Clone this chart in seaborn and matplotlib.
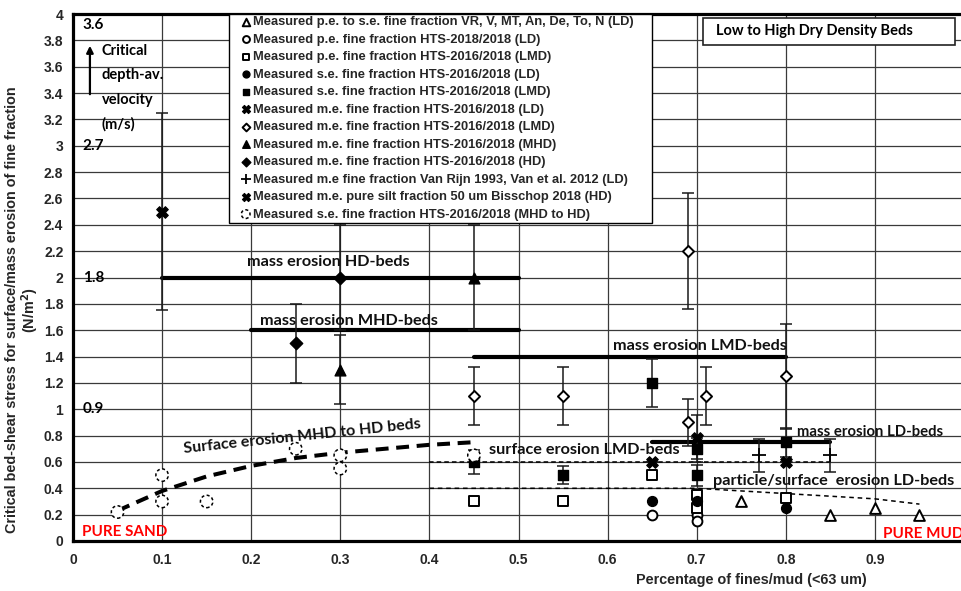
import matplotlib
matplotlib.use("Agg")
import matplotlib.pyplot as plt
import seaborn as sns

# ---------------- measured critical bed-shear stresses (N/m2) ----------------
pe_se_ld_x = [0.75, 0.85, 0.90, 0.95]
pe_se_ld_y = [0.30, 0.20, 0.25, 0.20]

pe_hts18_ld_x = [0.65, 0.70, 0.70]
pe_hts18_ld_y = [0.20, 0.20, 0.15]

pe_hts16_lmd_x = [0.45, 0.55, 0.65, 0.70, 0.70, 0.80]
pe_hts16_lmd_y = [0.30, 0.30, 0.50, 0.35, 0.25, 0.33]

se_hts16_ld_x = [0.65, 0.70, 0.80]
se_hts16_ld_y = [0.30, 0.30, 0.25]

se_hts16_lmd_x = [0.45, 0.55, 0.65, 0.70, 0.70, 0.80]
se_hts16_lmd_y = [0.60, 0.50, 1.20, 0.70, 0.50, 0.75]
se_hts16_lmd_err = [0.09, 0.07, 0.18, 0.08, 0.08, 0.11]

me_hts16_ld_x = [0.65, 0.70, 0.80]
me_hts16_ld_y = [0.60, 0.78, 0.60]
me_hts16_ld_err = [0.0, 0.18, 0.0]

me_hts16_lmd_x = [0.45, 0.55, 0.69, 0.69, 0.71, 0.80]
me_hts16_lmd_y = [1.10, 1.10, 2.20, 0.90, 1.10, 1.25]
me_hts16_lmd_err = [0.22, 0.22, 0.44, 0.18, 0.22, 0.40]

me_hts16_mhd_x = [0.30, 0.45]
me_hts16_mhd_y = [1.30, 2.00]
me_hts16_mhd_err = [0.26, 0.40]

me_hts16_hd_x = [0.25, 0.30]
me_hts16_hd_y = [1.50, 2.00]
me_hts16_hd_err = [0.30, 0.40]

me_vanrijn_ld_x = [0.77, 0.85]
me_vanrijn_ld_y = [0.65, 0.65]
me_vanrijn_ld_err = [0.125, 0.125]

me_silt_hd_x = [0.10]
me_silt_hd_y = [2.50]
me_silt_hd_err = [0.75]

se_hts16_mhd_hd_x = [0.05, 0.10, 0.10, 0.15, 0.25, 0.30, 0.30, 0.45]
se_hts16_mhd_hd_y = [0.22, 0.50, 0.30, 0.30, 0.70, 0.65, 0.55, 0.65]

# ---------------- erosion threshold lines ----------------
mass_hd_x, mass_hd_y = [0.10, 0.50], [2.0, 2.0]
mass_mhd_x, mass_mhd_y = [0.20, 0.50], [1.6, 1.6]
mass_lmd_x, mass_lmd_y = [0.45, 0.80], [1.4, 1.4]
mass_ld_x, mass_ld_y = [0.65, 0.85], [0.75, 0.75]

surf_mhd_hd_x = [0.05, 0.10, 0.15, 0.20, 0.25, 0.30, 0.35, 0.40, 0.45]
surf_mhd_hd_y = [0.23, 0.38, 0.49, 0.57, 0.63, 0.67, 0.70, 0.73, 0.75]

surf_lmd_x, surf_lmd_y = [0.40, 0.85], [0.60, 0.60]
part_ld_x = [0.40, 0.70, 0.80, 0.90, 0.95]
part_ld_y = [0.40, 0.40, 0.36, 0.32, 0.28]

# ---------------- axis ticks ----------------
x_ticks = [0.0, 0.1, 0.2, 0.3, 0.4, 0.5, 0.6, 0.7, 0.8, 0.9, 1.0]
x_tick_labels = ["0", "0.1", "0.2", "0.3", "0.4", "0.5", "0.6", "0.7", "0.8", "0.9", ""]
y_ticks = [i * 0.2 for i in range(21)]
y_tick_labels = ["0", "0.2", "0.4", "0.6", "0.8", "1", "1.2", "1.4", "1.6", "1.8", "2",
                 "2.2", "2.4", "2.6", "2.8", "3", "3.2", "3.4", "3.6", "3.8", "4"]

# critical depth-averaged velocity (m/s) shown next to stress levels
velocity_labels = ["0.9", "1.8", "2.7", "3.6"]
velocity_stress = [1.0, 2.0, 3.0, 3.92]

sns.set_style("white")
plt.rcParams["font.family"] = ["Liberation Sans", "DejaVu Sans"]
plt.rcParams["font.weight"] = "bold"
plt.rcParams["axes.labelweight"] = "bold"

CAL = ["Lato", "DejaVu Sans"]

fig = plt.figure(figsize=(9.61, 5.91), dpi=100)
ax = fig.add_axes([73 / 961, 50 / 591, 891 / 961, 527 / 591])
ax.set_xlim(0, 1.0)
ax.set_ylim(0, 4.0)

ax.set_xticks(x_ticks)
ax.set_xticklabels(x_tick_labels)
ax.set_yticks(y_ticks)
ax.set_yticklabels(y_tick_labels)
ax.tick_params(axis="both", length=0, labelsize=10)
ax.tick_params(axis="x", pad=9)
ax.tick_params(axis="y", pad=7)
ax.grid(True, color="#3a3a3a", linewidth=0.9)
ax.set_axisbelow(True)
for side in ["left", "bottom", "top"]:
    ax.spines[side].set_color("black")
    ax.spines[side].set_linewidth(2.3)
ax.spines["right"].set_visible(False)

ax.set_ylabel("Critical bed-shear stress for surface/mass erosion of fine fraction\n(N/m$^\\mathbf{2}$)",
              fontsize=10.4, fontweight="bold", linespacing=1.05)
ax.yaxis.set_label_coords(-0.036, 0.438)
ax.set_xlabel("Percentage of fines/mud (<63 um)", fontsize=10.4, fontweight="bold")
ax.xaxis.set_label_coords(0.761, -0.06)

# ---------------- threshold lines ----------------
for lx, ly in [(mass_hd_x, mass_hd_y), (mass_mhd_x, mass_mhd_y),
               (mass_lmd_x, mass_lmd_y), (mass_ld_x, mass_ld_y)]:
    sns.lineplot(x=lx, y=ly, ax=ax, color="black", linewidth=3.0, sort=False,
                 estimator=None, zorder=3)

sns.lineplot(x=surf_mhd_hd_x, y=surf_mhd_hd_y, ax=ax, color="black", linewidth=2.9,
             sort=False, estimator=None, zorder=3)
ax.lines[-1].set_dashes((3.2, 1.9))
sns.lineplot(x=surf_lmd_x, y=surf_lmd_y, ax=ax, color="black", linewidth=1.1,
             sort=False, estimator=None, zorder=3)
ax.lines[-1].set_dashes((3, 2))
sns.lineplot(x=part_ld_x, y=part_ld_y, ax=ax, color="black", linewidth=1.1,
             sort=False, estimator=None, zorder=3)
ax.lines[-1].set_dashes((3, 2.5))

# ---------------- error bars ----------------
for ex, ey, ee in [(se_hts16_lmd_x, se_hts16_lmd_y, se_hts16_lmd_err),
                   (me_hts16_ld_x, me_hts16_ld_y, me_hts16_ld_err),
                   (me_hts16_lmd_x, me_hts16_lmd_y, me_hts16_lmd_err),
                   (me_hts16_mhd_x, me_hts16_mhd_y, me_hts16_mhd_err),
                   (me_hts16_hd_x, me_hts16_hd_y, me_hts16_hd_err),
                   (me_vanrijn_ld_x, me_vanrijn_ld_y, me_vanrijn_ld_err),
                   (me_silt_hd_x, me_silt_hd_y, me_silt_hd_err)]:
    ax.errorbar(ex, ey, yerr=ee, fmt="none", ecolor="#1a1a1a", elinewidth=1.1,
                capsize=4, capthick=1.1, zorder=4)

# ---------------- measured points ----------------
series = [
    ("Measured p.e. to s.e. fine fraction VR, V, MT, An, De, To, N (LD)",
     pe_se_ld_x, pe_se_ld_y, dict(marker="^", s=60, facecolor="white", edgecolor="black", linewidth=1.4)),
    ("Measured p.e. fine fraction HTS-2018/2018 (LD)",
     pe_hts18_ld_x, pe_hts18_ld_y, dict(marker="o", s=50, facecolor="white", edgecolor="black", linewidth=1.4)),
    ("Measured p.e. fine fraction HTS-2016/2018 (LMD)",
     pe_hts16_lmd_x, pe_hts16_lmd_y, dict(marker="s", s=48, facecolor="white", edgecolor="black", linewidth=1.4)),
    ("Measured s.e. fine fraction HTS-2016/2018 (LD)",
     se_hts16_ld_x, se_hts16_ld_y, dict(marker="o", s=50, facecolor="black", edgecolor="black", linewidth=1.0)),
    ("Measured s.e. fine fraction HTS-2016/2018 (LMD)",
     se_hts16_lmd_x, se_hts16_lmd_y, dict(marker="s", s=48, facecolor="black", edgecolor="black", linewidth=1.0)),
    ("Measured m.e. fine fraction HTS-2016/2018 (LD)",
     me_hts16_ld_x, me_hts16_ld_y, dict(marker="X", s=70, facecolor="black", edgecolor="black", linewidth=0.8)),
    ("Measured m.e. fine fraction HTS-2016/2018 (LMD)",
     me_hts16_lmd_x, me_hts16_lmd_y, dict(marker="D", s=32, facecolor="white", edgecolor="black", linewidth=1.4)),
    ("Measured m.e. fine fraction HTS-2016/2018 (MHD)",
     me_hts16_mhd_x, me_hts16_mhd_y, dict(marker="^", s=60, facecolor="black", edgecolor="black", linewidth=1.0)),
    ("Measured m.e. fine fraction HTS-2016/2018 (HD)",
     me_hts16_hd_x, me_hts16_hd_y, dict(marker="D", s=40, facecolor="black", edgecolor="black", linewidth=1.0)),
    ("Measured m.e fine fraction Van Rijn 1993, Van et al. 2012 (LD)",
     me_vanrijn_ld_x, me_vanrijn_ld_y, dict(marker="+", s=90, color="black", linewidth=1.3)),
    ("Measured m.e. pure silt fraction 50 um Bisschop 2018 (HD)",
     me_silt_hd_x, me_silt_hd_y, dict(marker="X", s=70, facecolor="black", edgecolor="black", linewidth=0.8)),
    ("Measured s.e. fine fraction HTS-2016/2018 (MHD to HD)",
     se_hts16_mhd_hd_x, se_hts16_mhd_hd_y, dict(marker="o", s=80, facecolor="white", edgecolor="black",
                                                linewidth=1.1, linestyle=(0, (2.0, 1.6)))),
]

handles, labels = [], []
for label, sx, sy, style in series:
    sns.scatterplot(x=sx, y=sy, ax=ax, label=label, legend=False, zorder=5, **style)
    handles.append(ax.collections[-1])
    labels.append(label)

# legend frame drawn as its own rectangle so that the entries can sit close to its left edge
ax.add_patch(plt.Rectangle((0.175, 2.41), 0.475, 1.59, facecolor="white",
                           edgecolor="black", linewidth=1.0, zorder=6))
leg = ax.legend(handles, labels, loc="upper left", bbox_to_anchor=(0.188, 0.998),
                borderaxespad=0, frameon=False, markerscale=0.7,
                handlelength=0.6, handletextpad=0.25, labelspacing=0.42,
                borderpad=0.1, prop={"weight": "bold", "size": 9.3})
leg.set_zorder(7)

# ---------------- annotations ----------------
ann = dict(family=CAL, fontweight="bold", fontsize=11.7, color="#111111", zorder=7)
ax.text(0.195, 2.12, "mass erosion HD-beds", va="center", ha="left", **ann)
ax.text(0.21, 1.67, "mass erosion MHD-beds", va="center", ha="left", **ann)
ax.text(0.606, 1.48, "mass erosion LMD-beds", va="center", ha="left", **ann)
ax.text(0.8125, 0.83, "mass erosion LD-beds", va="center", ha="left",
        **{**ann, "fontsize": 10.7})
ax.text(0.467, 0.69, "surface erosion LMD-beds", va="center", ha="left", **ann)
ax.text(0.718, 0.455, "particle/surface  erosion LD-beds", va="center", ha="left", **ann)
ax.text(0.257, 0.79, "Surface erosion MHD to HD beds", va="center", ha="center",
        rotation=6, rotation_mode="anchor", **{**ann, "fontsize": 11.5})

red = dict(family=CAL, fontweight="bold", fontsize=11, color="#ff0000", zorder=7)
ax.text(0.01, 0.07, "PURE SAND", va="center", ha="left", **red)
ax.text(0.909, 0.055, "PURE MUD", va="center", ha="left", **red)

# box with bed-type title
ax.add_patch(plt.Rectangle((0.707, 3.765), 0.283, 0.205, facecolor="white",
                           edgecolor="#222222", linewidth=1.2, zorder=6))
ax.text(0.722, 3.87, "Low to High Dry Density Beds", va="center", ha="left",
        family=CAL, fontweight="bold", fontsize=10.5, color="black", zorder=7)

# velocity scale on the left
for vlab, vs in zip(velocity_labels, velocity_stress):
    ax.text(0.011, vs, vlab, va="center", ha="left", family=CAL, fontweight="bold",
            fontsize=11, color="black", zorder=7)
ax.annotate("", xy=(0.019, 3.78), xytext=(0.019, 3.37),
            arrowprops=dict(arrowstyle="-|>", color="black", lw=1.6, mutation_scale=10),
            zorder=7)
ax.text(0.0325, 3.775, "Critical\ndepth-av.\nvelocity\n(m/s)", va="top", ha="left",
        family=CAL, fontweight="bold", fontsize=10.5, color="black",
        linespacing=1.95, zorder=7)

fig.savefig("out.png", dpi=100)
